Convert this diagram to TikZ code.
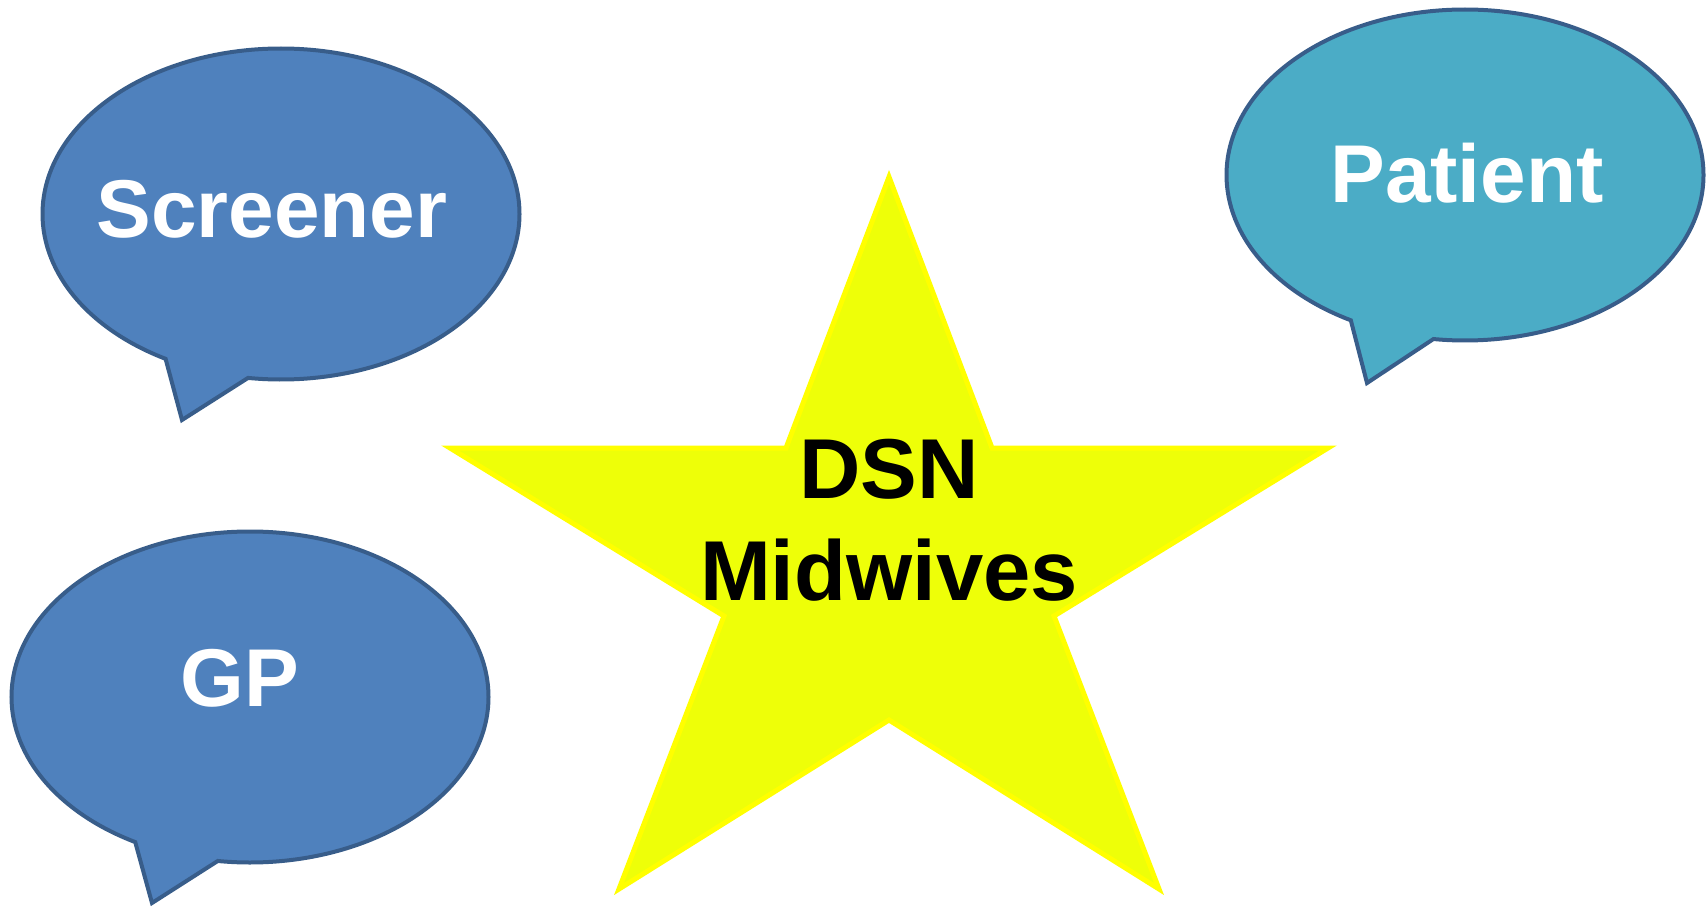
\documentclass[tikz,border=0pt]{standalone}
\usepackage{fontspec}
\setmainfont{Liberation Sans}
\usetikzlibrary{shapes.callouts}

\begin{document}
\begin{tikzpicture}[x=1pt,y=-1pt,
	bubble/.style={ellipse callout, draw=custcol_38_5d_8a, line width=4.0pt, inner sep=0, minimum width=477pt, minimum height=331pt, callout pointer arc=21},
	bubbletext/.style={inner sep=0, text=white, font=\fontsize{82pt}{98pt}\bfseries\selectfont},
	startext/.style={inner sep=0, align=center, text=black, font=\fontsize{85pt}{102pt}\bfseries\selectfont}]
	\definecolor{custcol_4f_81_bd}{RGB}{79, 129, 189}
	\definecolor{custcol_4b_ac_c6}{RGB}{75, 172, 198}
	\definecolor{custcol_38_5d_8a}{RGB}{56, 93, 138}
	\definecolor{custcol_ee_ff_08}{RGB}{238, 255, 8}
	\definecolor{custcol_ff_ff_0}{RGB}{255, 255, 0}
	\useasboundingbox (0.0,0.0) rectangle (1707.0,907.0);
	% speech bubbles
	\node[bubble, fill=custcol_4f_81_bd, callout absolute pointer={(182.0,420.0)}] (screener) at (281.0,214.0) {};
	\node[bubbletext] (screener-text) at (272.0,209.0) {Screener};
	\node[bubble, fill=custcol_4b_ac_c6, callout absolute pointer={(1367.0,383.0)}] (patient) at (1465.0,175.0) {};
	\node[bubbletext] (patient-text) at (1467.0,173.0) {Patient};
	\node[bubble, fill=custcol_4f_81_bd, callout absolute pointer={(152.0,903.0)}] (gp) at (250.0,697.0) {};
	\node[bubbletext] (gp-text) at (240.0,678.0) {GP};
	% star
	\filldraw [line width=5.0pt, draw=custcol_ff_ff_0, fill=custcol_ee_ff_08] (889.0,177.0) -- (992.0,448.0) -- (1328.0,448.0) -- (1054.0,616.0) -- (1159.0,889.0) -- (889.0,720.0) -- (619.0,889.0) -- (724.0,616.0) -- (450.0,448.0) -- (786.0,448.0) -- cycle;
	\node[startext] (dsn) at (889.0,520.0) {DSN\\Midwives};
\end{tikzpicture}
\end{document}
